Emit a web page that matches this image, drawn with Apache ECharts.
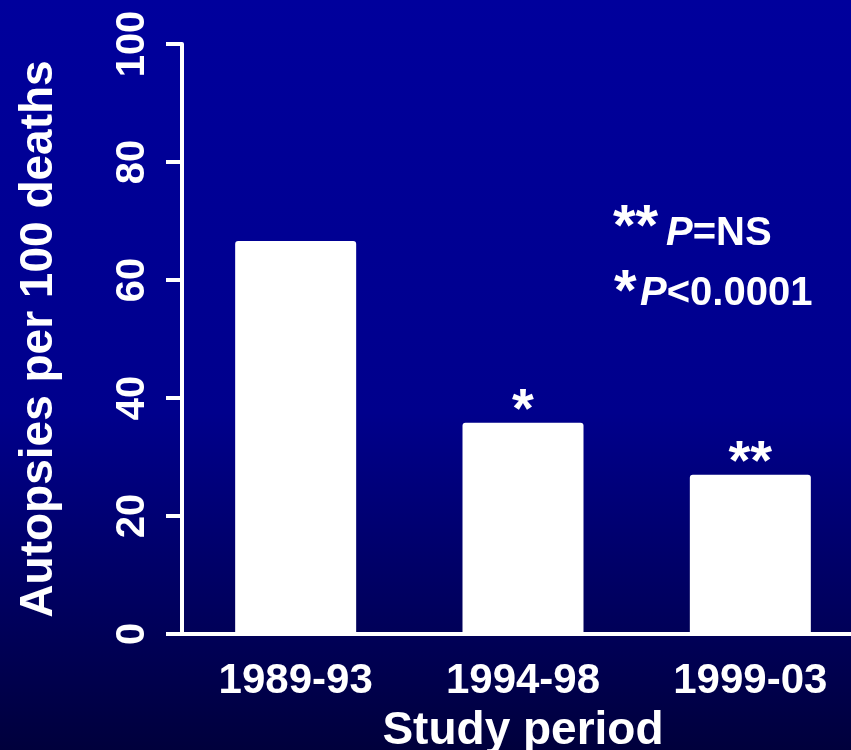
<!DOCTYPE html>
<html><head><meta charset="utf-8">
<script src="https://cdn.jsdelivr.net/npm/echarts@6/dist/echarts.min.js"></script>
<style>html,body{margin:0;padding:0;}#c{width:851px;height:750px;}</style>
</head><body><div id="c"></div>
<script>
const categories = ['1989-93', '1994-98', '1999-03'];
const values = [66.6, 35.8, 27.0];
const marks = ['', '*', '**'];
const yTicks = { min: 0, max: 100, interval: 20 };

const FONT = '"Liberation Sans", Arial, sans-serif';
const chart = echarts.init(document.getElementById('c'));
chart.setOption({
  backgroundColor: new echarts.graphic.LinearGradient(0, 0, 0, 1, [
    { offset: 0, color: '#00009c' },
    { offset: 0.55, color: '#00008c' },
    { offset: 1, color: '#00003c' }
  ]),
  animation: false,
  grid: { left: 182, top: 44, width: 682, height: 590, containLabel: false, outerBoundsMode: 'none' },
  xAxis: {
    type: 'category', data: categories,
    axisLine: { lineStyle: { color: '#fff', width: 4 } },
    axisTick: { show: false },
    axisLabel: { color: '#fff', fontSize: 42, fontWeight: 'bold', fontFamily: FONT, margin: 26 },
    name: 'Study period', nameLocation: 'middle', nameGap: 74,
    nameTextStyle: { color: '#fff', fontSize: 46, fontWeight: 'bold', fontFamily: FONT }
  },
  yAxis: {
    type: 'value', min: yTicks.min, max: yTicks.max, interval: yTicks.interval,
    splitLine: { show: false },
    axisLine: { show: true, lineStyle: { color: '#fff', width: 4 } },
    axisTick: { show: true, length: 16, lineStyle: { color: '#fff', width: 4 } },
    axisLabel: { color: '#fff', fontSize: 40, fontWeight: 'bold', fontFamily: FONT, rotate: 90, margin: 29 },
    name: 'Autopsies per 100 deaths', nameLocation: 'middle', nameGap: 120, nameRotate: 90,
    nameTextStyle: { color: '#fff', fontSize: 46, fontWeight: 'bold', fontFamily: FONT }
  },
  series: [{
    type: 'bar', data: values, barWidth: 121,
    itemStyle: { color: '#fff', borderRadius: [3, 3, 0, 0] },
    label: {
      show: true, position: 'top', distance: -17,
      formatter: p => marks[p.dataIndex],
      color: '#fff', fontSize: 56, fontWeight: 'bold', fontFamily: FONT
    }
  }],
  graphic: [
    { type: 'text', left: 613, top: 200, style: { text: '**', fill: '#fff', fontSize: 58, fontWeight: 'bold', fontFamily: FONT } },
    { type: 'text', left: 666, top: 214, style: { text: '{i|P}=NS', fill: '#fff', fontSize: 40, fontWeight: 'bold', fontFamily: FONT,
      rich: { i: { fontStyle: 'italic', fontSize: 40, fontWeight: 'bold', fontFamily: FONT, fill: '#fff' } } } },
    { type: 'text', left: 614, top: 265, style: { text: '*', fill: '#fff', fontSize: 58, fontWeight: 'bold', fontFamily: FONT } },
    { type: 'text', left: 640, top: 274, style: { text: '{i|P}<0.0001', fill: '#fff', fontSize: 40, fontWeight: 'bold', fontFamily: FONT,
      rich: { i: { fontStyle: 'italic', fontSize: 40, fontWeight: 'bold', fontFamily: FONT, fill: '#fff' } } } }
  ]
});
</script></body></html>
